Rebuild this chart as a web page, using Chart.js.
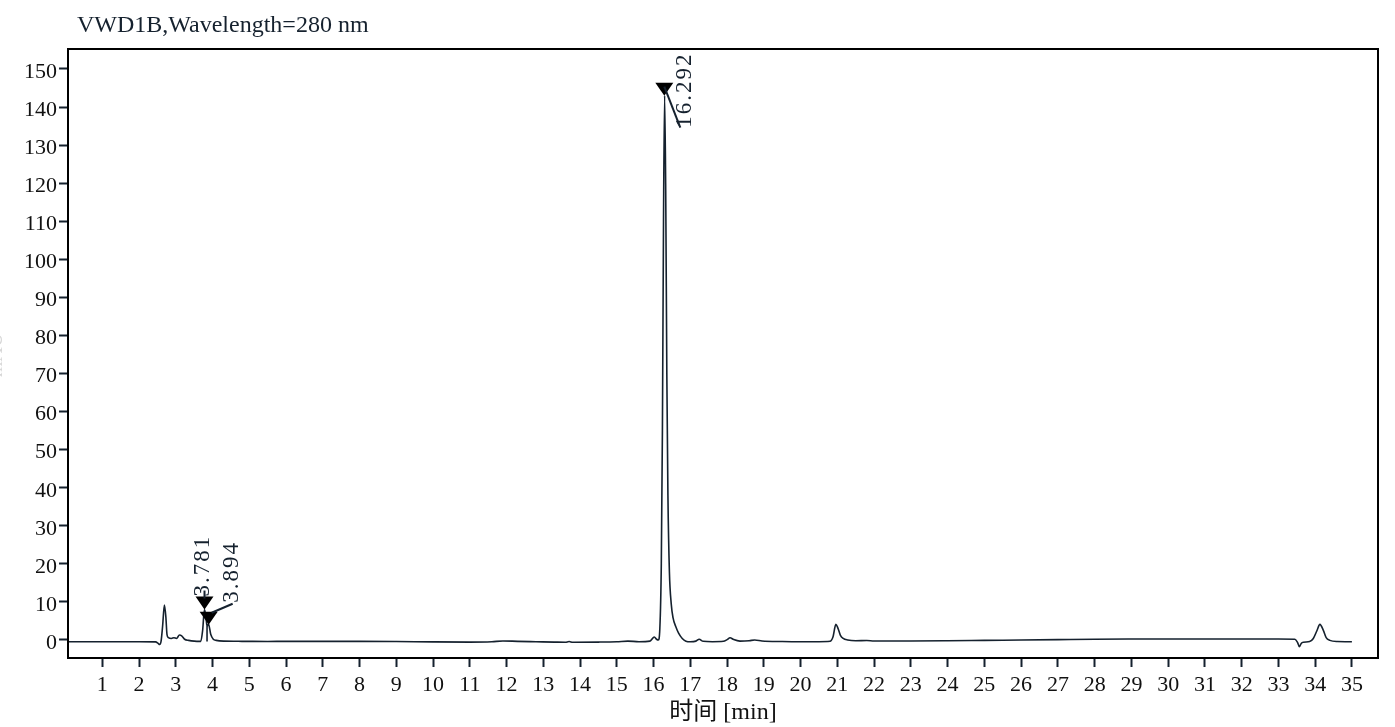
<!DOCTYPE html>
<html>
<head>
<meta charset="utf-8">
<script src="https://cdn.jsdelivr.net/npm/chart.js@4.4.1/dist/chart.umd.min.js"></script>
<style>
  html, body { margin: 0; padding: 0; background: #fff; }
</style>
</head>
<body>
<canvas id="chrom" width="1395" height="727"></canvas>
<script>
// retention time [min] and detector signal [mAU]
const times = [
  0.07, 1.0, 2.0, 2.45, 2.52, 2.56, 2.60, 2.64, 2.69, 2.73, 2.76, 2.80, 2.88, 2.95, 3.02, 3.10, 3.16, 3.24, 3.35, 3.50,
  3.68, 3.73, 3.78, 3.82, 3.85, 3.89, 3.95, 4.02, 4.10, 4.30, 4.8, 5.5, 6.0, 7.0, 8.0, 9.0, 10.0, 11.0, 11.6, 11.9,
  12.3, 12.8, 13.3, 13.6, 13.7, 13.8, 14.5, 15.0, 15.3, 15.6, 15.9, 16.02, 16.08, 16.13, 16.17, 16.21, 16.24, 16.27, 16.30, 16.33,
  16.36, 16.39, 16.43, 16.48, 16.53, 16.60, 16.68, 16.78, 16.88, 17.0, 17.15, 17.24, 17.35, 17.6, 17.9, 18.0, 18.08, 18.18, 18.35, 18.6,
  18.75, 18.95, 19.5, 20.0, 20.5, 20.8, 20.88, 20.96, 21.02, 21.08, 21.16, 21.28, 21.5, 21.8, 22.0, 23.0, 24.0, 25.0, 26.0, 27.0,
  28.0, 29.0, 30.0, 31.0, 32.0, 33.0, 33.45, 33.52, 33.57, 33.62, 33.68, 33.85, 33.95, 34.05, 34.13, 34.22, 34.30, 34.40, 34.60, 35.0
]
const signal = [
  -0.45, -0.45, -0.45, -0.5, -0.9, -1.2, -0.3, 3.5, 9.2, 6.0, 1.5, 0.6, 0.4, 0.6, 0.4, 1.3, 1.1, 0.2, -0.1, -0.3,
  -0.35, 2.5, 8.0, 6.0, 3.6, 4.2, 1.5, 0.2, -0.1, -0.3, -0.35, -0.4, -0.35, -0.35, -0.35, -0.4, -0.5, -0.55, -0.45, -0.25,
  -0.35, -0.45, -0.55, -0.6, -0.4, -0.6, -0.55, -0.45, -0.3, -0.45, -0.3, 0.8, 0.2, 0.0, 3.0, 20, 55, 110, 143, 118,
  70, 38, 18, 9.5, 5.8, 3.6, 1.8, 0.4, -0.3, -0.45, -0.3, 0.2, -0.35, -0.45, -0.35, 0.1, 0.6, 0.1, -0.3, -0.2,
  0.0, -0.25, -0.4, -0.45, -0.45, -0.35, 0.8, 4.1, 3.0, 1.3, 0.4, 0.0, -0.2, -0.15, -0.25, -0.25, -0.2, -0.1, 0.0, 0.1,
  0.2, 0.25, 0.25, 0.25, 0.25, 0.25, 0.2, -0.6, -1.75, -0.9, -0.6, -0.4, 0.4, 2.5, 4.1, 2.6, 0.6, -0.1, -0.4, -0.45
]

// integrated peaks
const peakTimes = [3.781, 3.894, 16.292]
const peakHeights = [8.0, 4.0, 143.0]
const peakLabels = ['3.781', '3.894', '16.292']

// drop line between the two split peaks
const dropTime = 3.85
const dropRange = [-0.4, 3.6]

const xTicks = [1, 2, 3, 4, 5, 6, 7, 8, 9, 10, 11, 12, 13, 14, 15, 16, 17, 18, 19, 20,
  21, 22, 23, 24, 25, 26, 27, 28, 29, 30, 31, 32, 33, 34, 35]
const yTicks = [0, 10, 20, 30, 40, 50, 60, 70, 80, 90, 100, 110, 120, 130, 140, 150]

const FONT = "'Liberation Serif', 'Noto Sans CJK SC', serif"
const INK = '#15212e'

// label placement relative to each peak tip, in pixels
const labelLayout = [
  { tx: -2, ty: -13, l0: [0, -19], l1: [0, -11] },
  { tx: 23, ty: -22, l0: [3, -12], l1: [24, -21] },
  { tx: 21, ty: 32, l0: [0, -9], l1: [16, 32] }
]

const decor = {
  id: 'decor',
  afterDatasetsDraw(chart) {
    const { ctx, scales: { x, y } } = chart
    ctx.save()
    peakTimes.forEach((t, i) => {
      const px = x.getPixelForValue(t)
      const py = y.getPixelForValue(peakHeights[i])
      const lay = labelLayout[i]
      ctx.fillStyle = '#000'
      ctx.beginPath()
      ctx.moveTo(px - 9, py - 13)
      ctx.lineTo(px + 9, py - 13)
      ctx.lineTo(px, py)
      ctx.closePath()
      ctx.fill()

      ctx.strokeStyle = INK
      ctx.lineWidth = 2
      ctx.beginPath()
      ctx.moveTo(px + lay.l0[0], py + lay.l0[1])
      ctx.lineTo(px + lay.l1[0], py + lay.l1[1])
      ctx.stroke()

      ctx.save()
      ctx.translate(px + lay.tx, py + lay.ty)
      ctx.rotate(-Math.PI / 2)
      ctx.font = `23px ${FONT}`
      ctx.fillStyle = INK
      ctx.textAlign = 'left'
      ctx.textBaseline = 'middle'
      if ('letterSpacing' in ctx) ctx.letterSpacing = '2px'
      ctx.fillText(peakLabels[i], 0, 0)
      ctx.restore()
    })
    ctx.restore()
  },
  afterDraw(chart) {
    const { ctx, chartArea: a } = chart
    ctx.save()
    ctx.strokeStyle = '#000'
    ctx.lineWidth = 2
    ctx.strokeRect(a.left, a.top, a.right - a.left, a.bottom - a.top)

    ctx.font = `24px ${FONT}`
    ctx.fillStyle = INK
    ctx.textAlign = 'left'
    ctx.textBaseline = 'middle'
    ctx.fillText('VWD1B,Wavelength=280 nm', 77, 26)

    // y axis unit, mostly clipped at the left edge
    ctx.translate(-3, 355)
    ctx.rotate(-Math.PI / 2)
    ctx.font = `20px ${FONT}`
    ctx.fillStyle = '#d8d8d8'
    ctx.textAlign = 'center'
    ctx.fillText('mAU', 0, 0)
    ctx.restore()
  }
}

new Chart(document.getElementById('chrom'), {
  type: 'line',
  data: {
    datasets: [
      {
        label: 'VWD1B',
        data: times.map((t, i) => ({ x: t, y: signal[i] })),
        borderColor: INK,
        borderWidth: 1.6,
        pointRadius: 0,
        cubicInterpolationMode: 'monotone',
        fill: false
      },
      {
        label: 'drop',
        data: dropRange.map(v => ({ x: dropTime, y: v })),
        borderColor: INK,
        borderWidth: 1.6,
        pointRadius: 0
      }
    ]
  },
  options: {
    responsive: false,
    animation: false,
    layout: { padding: { top: 49, right: 17, left: 0, bottom: 0 } },
    plugins: {
      legend: { display: false },
      tooltip: { enabled: false }
    },
    scales: {
      x: {
        type: 'linear',
        min: 0.067,
        max: 35.71,
        afterFit: s => { s.height = 69 },
        afterBuildTicks: s => { s.ticks = xTicks.map(v => ({ value: v })) },
        grid: { drawOnChartArea: false, tickLength: 9, tickWidth: 2, tickColor: INK },
        border: { display: true, width: 2, color: '#000' },
        ticks: {
          autoSkip: false,
          maxRotation: 0,
          padding: 5,
          color: '#111',
          font: { family: FONT, size: 22 }
        },
        title: {
          display: true,
          text: '时间 [min]',
          color: '#111',
          padding: { top: 0, bottom: 0 },
          font: { family: FONT, size: 24 }
        }
      },
      y: {
        min: -4.73,
        max: 155.25,
        afterFit: s => { s.width = 68 },
        afterBuildTicks: s => { s.ticks = yTicks.map(v => ({ value: v })) },
        grid: { drawOnChartArea: false, tickLength: 9, tickWidth: 2, tickColor: INK },
        border: { display: true, width: 2, color: '#000' },
        ticks: {
          autoSkip: false,
          padding: 2,
          labelOffset: 3,
          color: '#111',
          font: { family: FONT, size: 22 }
        }
      }
    }
  },
  plugins: [decor]
})
</script>
</body>
</html>
